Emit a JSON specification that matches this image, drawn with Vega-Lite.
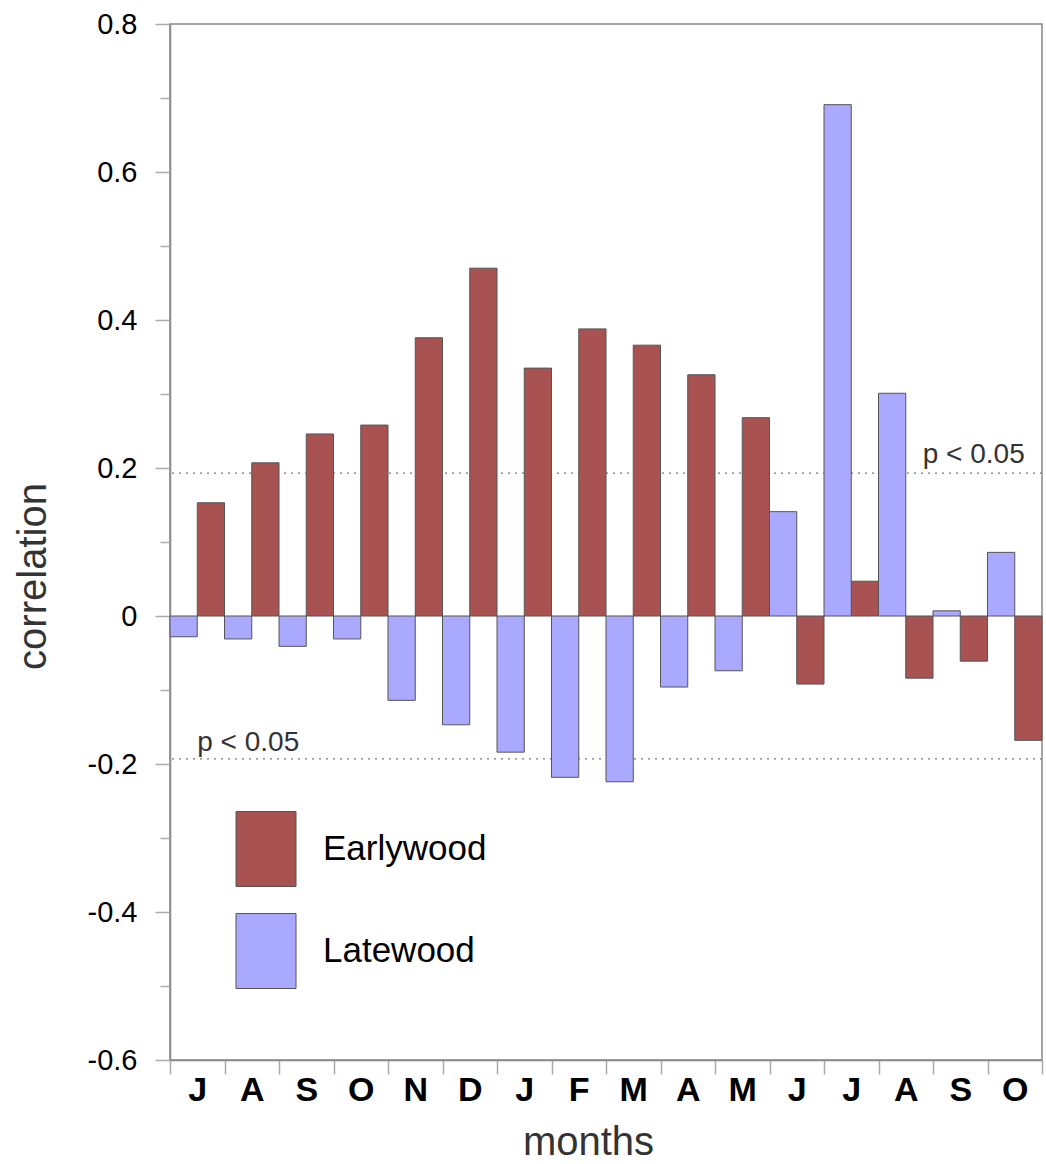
{
  "$schema": "https://vega.github.io/schema/vega-lite/v6.json",
  "autosize": "none",
  "width": 872,
  "height": 1036,
  "padding": {"left": 170, "top": 24, "right": 4, "bottom": 104},
  "background": "white",
  "config": {
    "font": "Liberation Sans",
    "view": {"stroke": "#888888", "strokeWidth": 1.5}
  },
  "datasets": {
    "bars": [
      {"m": "J1", "wood": "Earlywood", "r": 0.153}, {"m": "J1", "wood": "Latewood", "r": -0.028},
      {"m": "A1", "wood": "Earlywood", "r": 0.207}, {"m": "A1", "wood": "Latewood", "r": -0.031},
      {"m": "S1", "wood": "Earlywood", "r": 0.246}, {"m": "S1", "wood": "Latewood", "r": -0.041},
      {"m": "O1", "wood": "Earlywood", "r": 0.258}, {"m": "O1", "wood": "Latewood", "r": -0.031},
      {"m": "N", "wood": "Earlywood", "r": 0.376}, {"m": "N", "wood": "Latewood", "r": -0.114},
      {"m": "D", "wood": "Earlywood", "r": 0.470}, {"m": "D", "wood": "Latewood", "r": -0.147},
      {"m": "J2", "wood": "Earlywood", "r": 0.335}, {"m": "J2", "wood": "Latewood", "r": -0.184},
      {"m": "F", "wood": "Earlywood", "r": 0.388}, {"m": "F", "wood": "Latewood", "r": -0.218},
      {"m": "M2", "wood": "Earlywood", "r": 0.366}, {"m": "M2", "wood": "Latewood", "r": -0.224},
      {"m": "A2", "wood": "Earlywood", "r": 0.326}, {"m": "A2", "wood": "Latewood", "r": -0.096},
      {"m": "M3", "wood": "Earlywood", "r": 0.268}, {"m": "M3", "wood": "Latewood", "r": -0.074},
      {"m": "J3", "wood": "Earlywood", "r": -0.092}, {"m": "J3", "wood": "Latewood", "r": 0.141},
      {"m": "J4", "wood": "Earlywood", "r": 0.047}, {"m": "J4", "wood": "Latewood", "r": 0.691},
      {"m": "A3", "wood": "Earlywood", "r": -0.084}, {"m": "A3", "wood": "Latewood", "r": 0.301},
      {"m": "S2", "wood": "Earlywood", "r": -0.061}, {"m": "S2", "wood": "Latewood", "r": 0.007},
      {"m": "O2", "wood": "Earlywood", "r": -0.168}, {"m": "O2", "wood": "Latewood", "r": 0.086}
    ],
    "sig": [
      {"y": 0.193, "m": "O2", "label": "p < 0.05", "pos": "top"},
      {"y": -0.193, "m": "J1", "label": "p < 0.05", "pos": "bottom"}
    ]
  },
  "layer": [
    {
      "data": {"name": "sig"},
      "mark": {"type": "rule", "color": "#777777", "strokeWidth": 1.2, "strokeDash": [2, 5]},
      "encoding": {"y": {"field": "y", "type": "quantitative"}}
    },
    {
      "data": {"name": "bars"},
      "mark": {"type": "bar", "stroke": "#555555", "strokeWidth": 1, "opacity": 1},
      "encoding": {
        "x": {
          "field": "m", "type": "nominal",
          "sort": ["J1","A1","S1","O1","N","D","J2","F","M2","A2","M3","J3","J4","A3","S2","O2"],
          "scale": {"paddingInner": 0, "paddingOuter": 0},
          "axis": {
            "title": "months",
            "labelExpr": "substring(datum.label, 0, 1)",
            "labelAngle": 0,
            "labelFont": "Liberation Sans",
            "labelFontSize": 34,
            "labelFontWeight": "bold",
            "labelColor": "#000000",
            "labelPadding": -1,
            "tickBand": "extent",
            "tickSize": 14,
            "tickColor": "#aaaaaa",
            "tickWidth": 1.5,
            "domainColor": "#888888",
            "domainWidth": 1.5,
            "titleFontSize": 40,
            "titleFontWeight": "normal",
            "titleColor": "#333333",
            "titlePadding": 15,
            "titleX": 418
          }
        },
        "xOffset": {"field": "wood", "type": "nominal", "sort": ["Latewood", "Earlywood"], "scale": {"paddingInner": 0, "paddingOuter": 0}},
        "y": {
          "field": "r", "type": "quantitative",
          "scale": {"domain": [-0.6, 0.8], "nice": false, "zero": false},
          "axis": {
            "title": "correlation",
            "values": [-0.6, -0.5, -0.4, -0.3, -0.2, -0.1, 0, 0.1, 0.2, 0.3, 0.4, 0.5, 0.6, 0.7, 0.8],
            "labelExpr": "abs(round(datum.value*10)) % 2 == 0 ? (round(datum.value*10) == 0 ? '0' : (datum.value < 0 ? '-' : '') + format(abs(datum.value), '.1f')) : ''",
            "grid": false,
            "labelFontSize": 29,
            "labelColor": "#000000",
            "labelPadding": 18,
            "tickSize": {"condition": {"test": "abs(round(datum.value*10)) % 2 == 0", "value": 15}, "value": 10},
            "tickColor": "#aaaaaa",
            "tickWidth": 1.5,
            "domainColor": "#888888",
            "domainWidth": 1.5,
            "titleFontSize": 40,
            "titleFontWeight": "normal",
            "titleColor": "#333333",
            "titlePadding": 34,
            "titleY": 552
          }
        },
        "color": {
          "field": "wood", "type": "nominal",
          "scale": {"domain": ["Earlywood", "Latewood"], "range": ["#a85252", "#a9a9ff"]},
          "legend": {
            "title": null,
            "orient": "none",
            "legendX": 58,
            "legendY": 787,
            "symbolType": "M-0.8,-1H0.8V1H-0.8Z",
            "symbolSize": 5625,
            "symbolStrokeColor": "#555555",
            "symbolStrokeWidth": 1,
            "symbolOpacity": 1,
            "labelFontSize": 35,
            "labelColor": "#000000",
            "labelOffset": 19,
            "rowPadding": 22,
            "labelLimit": 300,
            "padding": 0
          }
        }
      }
    },
    {
      "data": {"name": "sig"},
      "transform": [{"filter": "datum.pos == 'top'"}],
      "mark": {"type": "text", "align": "right", "baseline": "alphabetic", "dx": 10, "dy": -10, "fontSize": 28, "color": "#333333"},
      "encoding": {
        "x": {"field": "m", "type": "nominal", "sort": ["J1","A1","S1","O1","N","D","J2","F","M2","A2","M3","J3","J4","A3","S2","O2"]},
        "y": {"field": "y", "type": "quantitative"},
        "text": {"field": "label"}
      }
    },
    {
      "data": {"name": "sig"},
      "transform": [{"filter": "datum.pos == 'bottom'"}],
      "mark": {"type": "text", "align": "left", "baseline": "alphabetic", "dx": 0, "dy": -8, "fontSize": 28, "color": "#333333"},
      "encoding": {
        "x": {"field": "m", "type": "nominal", "sort": ["J1","A1","S1","O1","N","D","J2","F","M2","A2","M3","J3","J4","A3","S2","O2"]},
        "y": {"field": "y", "type": "quantitative"},
        "text": {"field": "label"}
      }
    }
  ]
}
